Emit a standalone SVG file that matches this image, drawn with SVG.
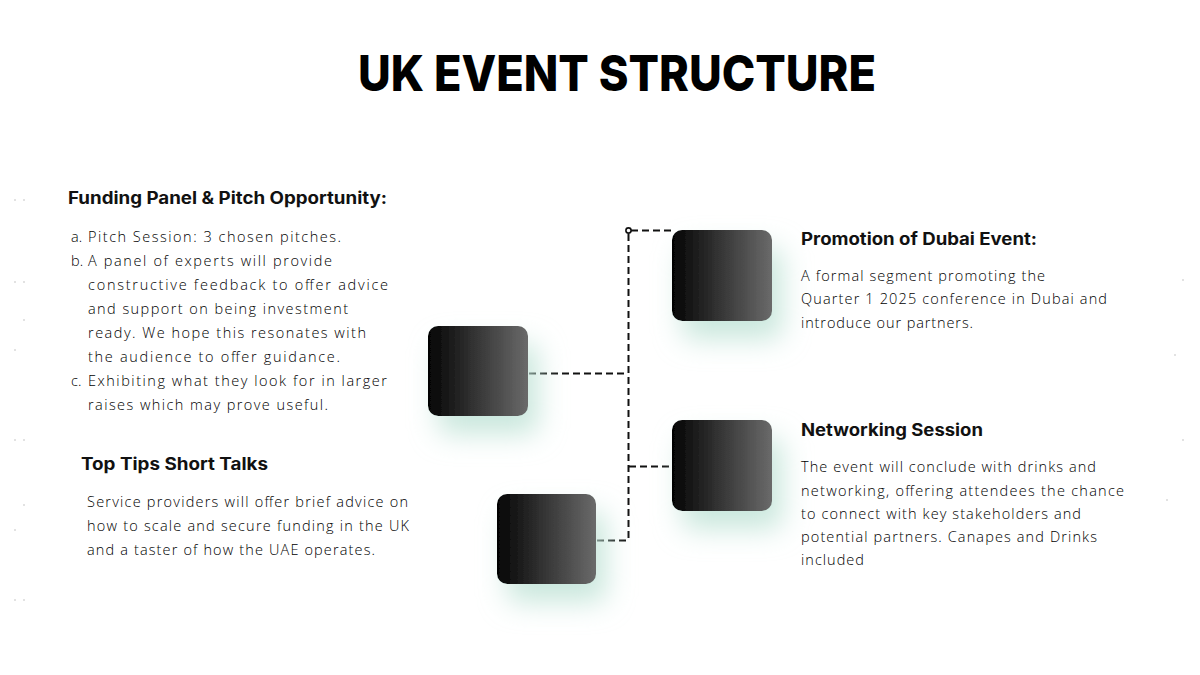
<svg xmlns="http://www.w3.org/2000/svg" width="1200" height="675" viewBox="0 0 1200 675">
<style>
.title{font-family:Inter,"Liberation Sans",sans-serif;font-weight:800;font-size:50px;fill:#000}
.head{font-family:Inter,"Liberation Sans",sans-serif;font-weight:700;font-size:17px;fill:#111}
.body{font-family:"Open Sans","Noto Sans",sans-serif;font-weight:300;font-size:14.5px;fill:#000}
.conn{fill:none;stroke:#111;stroke-width:2;stroke-dasharray:7 4}
.box{fill:url(#g)}
.dot{fill:#d8d8d8}
</style>
<defs>
<linearGradient id="g" x1="0" y1="0" x2="1" y2="0">
<stop offset="0" stop-color="#040404"/>
<stop offset="1" stop-color="#6a6a6a"/>
</linearGradient>
<filter id="sh" x="-50%" y="-50%" width="210%" height="220%">
<feFlood flood-color="#bfe3d6" flood-opacity="0.85"/>
<feComposite in2="SourceAlpha" operator="in"/>
<feOffset dx="10" dy="18"/>
<feGaussianBlur stdDeviation="14"/>
<feMerge><feMergeNode/><feMergeNode in="SourceGraphic"/></feMerge>
</filter>
</defs>
<rect width="1200" height="675" fill="#fff"/>
<g id="deco">
<circle class="dot" cx="15" cy="200" r="1"/><circle class="dot" cx="24" cy="200" r="1"/>
<circle class="dot" cx="15" cy="282" r="1"/><circle class="dot" cx="24" cy="282" r="1"/>
<circle class="dot" cx="24" cy="320" r="1"/><circle class="dot" cx="15" cy="350" r="1"/>
<circle class="dot" cx="15" cy="440" r="1"/><circle class="dot" cx="24" cy="440" r="1"/>
<circle class="dot" cx="24" cy="505" r="1"/><circle class="dot" cx="15" cy="530" r="1"/>
<circle class="dot" cx="15" cy="600" r="1"/><circle class="dot" cx="24" cy="600" r="1"/>
<circle class="dot" cx="1183" cy="280" r="1"/><circle class="dot" cx="1175" cy="355" r="1"/>
<circle class="dot" cx="1183" cy="440" r="1"/><circle class="dot" cx="1167" cy="500" r="1"/>
</g>
<text class="title" x="617" y="91" text-anchor="middle" textLength="518" lengthAdjust="spacingAndGlyphs">UK EVENT STRUCTURE</text>
<g id="connectors">
<circle cx="628.5" cy="230.5" r="2.6" fill="#fff" stroke="#111" stroke-width="1.6"/>
<path class="conn" d="M631 230.5 H672"/>
<path class="conn" d="M628.5 234 V542"/>
<path class="conn" d="M529 373.5 H628"/>
<path class="conn" d="M629 466.5 H672"/>
<path class="conn" d="M597 540.5 H628"/>
</g>
<g id="node-promotion">
<rect class="box" x="672" y="230" width="100" height="91" rx="10" filter="url(#sh)"/>
<text class="head" x="801" y="245" textLength="236" lengthAdjust="spacingAndGlyphs">Promotion of Dubai Event:</text>
<text class="body" x="801" y="281" textLength="244">A formal segment promoting the</text>
<text class="body" x="801" y="304" textLength="306">Quarter 1 2025 conference in Dubai and</text>
<text class="body" x="801" y="328" textLength="172">introduce our partners.</text>
</g>
<g id="node-funding">
<rect class="box" x="428" y="326" width="100" height="90" rx="10" filter="url(#sh)"/>
<text class="head" x="68" y="204" textLength="319" lengthAdjust="spacingAndGlyphs">Funding Panel &amp; Pitch Opportunity:</text>
<text class="body" x="71" y="242">a.</text>
<text class="body" x="88" y="242" textLength="253">Pitch Session: 3 chosen pitches.</text>
<text class="body" x="71" y="266">b.</text>
<text class="body" x="88" y="266" textLength="244">A panel of experts will provide</text>
<text class="body" x="88" y="290" textLength="300">constructive feedback to offer advice</text>
<text class="body" x="88" y="314" textLength="260">and support on being investment</text>
<text class="body" x="88" y="338" textLength="278">ready. We hope this resonates with</text>
<text class="body" x="88" y="362" textLength="252">the audience to offer guidance.</text>
<text class="body" x="71" y="386">c.</text>
<text class="body" x="88" y="386" textLength="299">Exhibiting what they look for in larger</text>
<text class="body" x="88" y="410" textLength="240">raises which may prove useful.</text>
</g>
<g id="node-networking">
<rect class="box" x="672" y="420" width="100" height="91" rx="10" filter="url(#sh)"/>
<text class="head" x="801" y="436" textLength="182" lengthAdjust="spacingAndGlyphs">Networking Session</text>
<text class="body" x="801" y="472" textLength="295">The event will conclude with drinks and</text>
<text class="body" x="801" y="496" textLength="323">networking, offering attendees the chance</text>
<text class="body" x="801" y="519" textLength="280">to connect with key stakeholders and</text>
<text class="body" x="801" y="542" textLength="296">potential partners. Canapes and Drinks</text>
<text class="body" x="801" y="565" textLength="63">included</text>
</g>
<g id="node-tips">
<rect class="box" x="497" y="494" width="99" height="90" rx="10" filter="url(#sh)"/>
<text class="head" x="81" y="470" textLength="187" lengthAdjust="spacingAndGlyphs">Top Tips Short Talks</text>
<text class="body" x="87" y="507" textLength="321">Service providers will offer brief advice on</text>
<text class="body" x="87" y="531" textLength="322">how to scale and secure funding in the UK</text>
<text class="body" x="87" y="555" textLength="288">and a taster of how the UAE operates.</text>
</g>
</svg>
